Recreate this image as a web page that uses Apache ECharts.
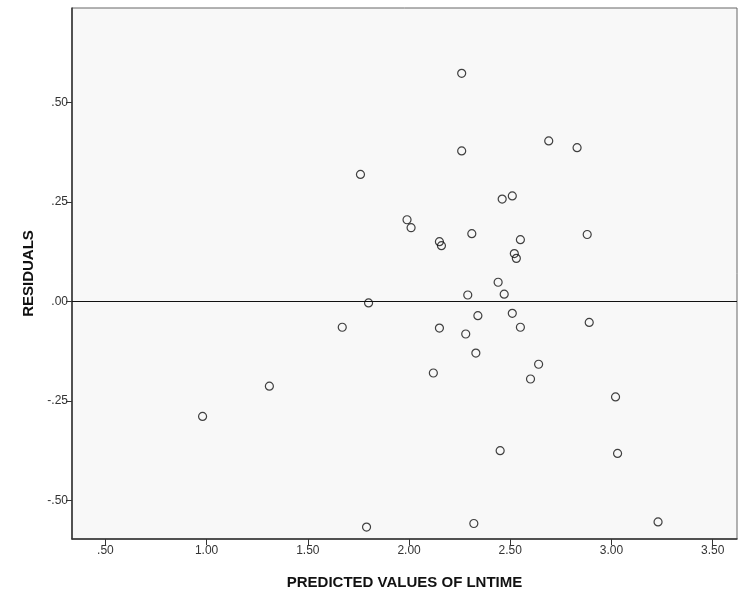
<!DOCTYPE html>
<html>
<head>
<meta charset="utf-8">
<script src="https://cdn.jsdelivr.net/npm/echarts@6/dist/echarts.min.js"></script>
<style>
  html, body { margin: 0; padding: 0; background: #fff; }
  #chart { width: 738px; height: 595px; }
</style>
</head>
<body>
<div id="chart"></div>
<script>
// predicted values (x) and residuals (y)
const predicted = [
  0.98, 1.31, 1.67, 1.76, 1.80, 1.99, 2.01, 1.79,
  2.12, 2.15, 2.15, 2.16, 2.26, 2.26, 2.29, 2.28,
  2.31, 2.34, 2.33, 2.32, 2.44, 2.46, 2.47, 2.45,
  2.51, 2.51, 2.52, 2.53, 2.55, 2.55, 2.60, 2.64,
  2.69, 2.83, 2.88, 2.89, 3.02, 3.03, 3.23
];
const residuals = [
  -0.289, -0.213, -0.065, 0.319, -0.004, 0.205, 0.185, -0.567,
  -0.180, -0.067, 0.150, 0.140, 0.573, 0.378, 0.016, -0.082,
  0.170, -0.036, -0.130, -0.558, 0.048, 0.257, 0.018, -0.375,
  0.265, -0.030, 0.120, 0.108, 0.155, -0.065, -0.195, -0.158,
  0.403, 0.386, 0.168, -0.053, -0.240, -0.382, -0.554
];
const xTicks = [0.5, 1.0, 1.5, 2.0, 2.5, 3.0, 3.5];
const yTicks = [-0.5, -0.25, 0, 0.25, 0.5];

// SPSS style labels: ".50", "-.25", "1.00"
function spssFmt(v) {
  const s = Math.abs(v).toFixed(2).replace(/^0\./, '.');
  return (v < 0 ? '-' : '') + s;
}

const points = predicted.map((x, i) => [x, residuals[i]]);

const chart = echarts.init(document.getElementById('chart'));
chart.setOption({
  animation: false,
  grid: {
    left: 72, right: 1, top: 8, bottom: 55,
    show: true,
    backgroundColor: '#f8f8f8',
    borderColor: '#666',
    borderWidth: 1
  },
  xAxis: {
    type: 'value',
    min: 0.335, max: 3.62,
    name: 'PREDICTED VALUES OF LNTIME',
    nameLocation: 'middle',
    nameGap: 36,
    nameTextStyle: { fontFamily: 'Liberation Sans', fontWeight: 'bold', fontSize: 15, color: '#111' },
    splitLine: { show: false },
    axisLine: { onZero: false, lineStyle: { color: '#333', width: 1.5 } },
    axisTick: { customValues: xTicks, length: 6, lineStyle: { color: '#333' } },
    axisLabel: {
      customValues: xTicks,
      formatter: spssFmt,
      fontFamily: 'Liberation Sans', fontSize: 12, color: '#333', margin: 6
    }
  },
  yAxis: {
    type: 'value',
    min: -0.597, max: 0.737,
    name: 'RESIDUALS',
    nameLocation: 'middle',
    nameGap: 36,
    nameTextStyle: { fontFamily: 'Liberation Sans', fontWeight: 'bold', fontSize: 15, color: '#111' },
    splitLine: { show: false },
    axisLine: { show: true, onZero: false, lineStyle: { color: '#333', width: 1.5 } },
    axisTick: { show: true, customValues: yTicks, length: 6, lineStyle: { color: '#333' } },
    axisLabel: {
      customValues: yTicks,
      formatter: spssFmt,
      fontFamily: 'Liberation Sans', fontSize: 12, color: '#333', margin: 4
    }
  },
  series: [{
    type: 'scatter',
    data: points,
    symbol: 'circle',
    symbolSize: 8,
    itemStyle: { color: 'transparent', borderColor: '#111', borderWidth: 1.2 },
    markLine: {
      silent: true,
      symbol: 'none',
      label: { show: false },
      lineStyle: { color: '#111', width: 1.2, type: 'solid' },
      data: [{ yAxis: 0 }]
    }
  }]
});
</script>
</body>
</html>
